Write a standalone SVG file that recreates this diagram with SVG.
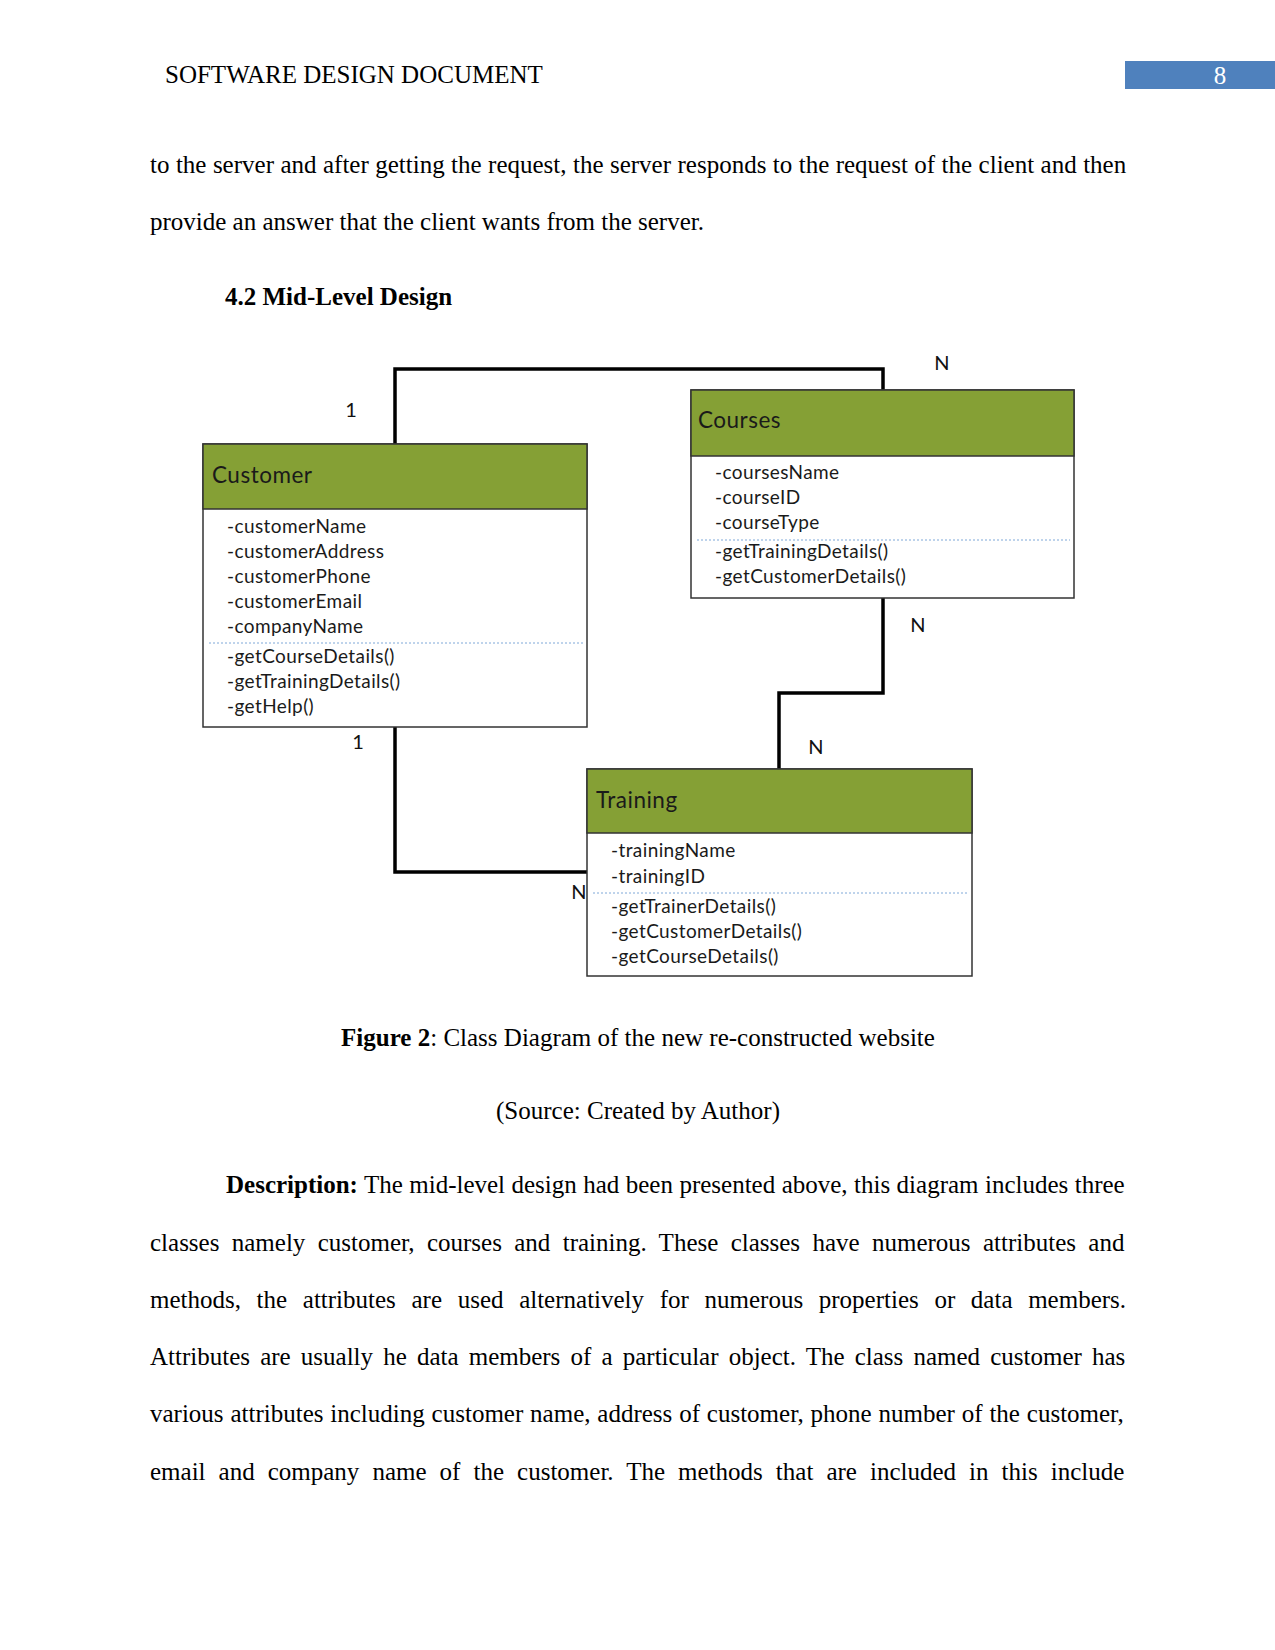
<svg xmlns="http://www.w3.org/2000/svg" width="1275" height="1650" viewBox="0 0 1275 1650">
<style>
.body{font-family:"Liberation Serif","Times New Roman",serif;font-size:25px;fill:#000}
.bold{font-weight:bold}
.uml{font-family:Lato,"Open Sans",sans-serif;fill:#1a1a1a}
.title{font-size:22.5px;letter-spacing:0.5px}
.item{font-size:19px;letter-spacing:0.4px}
.lbl{font-family:Lato,"Open Sans",sans-serif;font-size:20px;fill:#111;text-anchor:middle}
.box{fill:#fff;stroke:#333;stroke-width:1.5}
.head{fill:#85A035;stroke:#333;stroke-width:1.5}
.sep{stroke:#7FA8D8;stroke-width:1;stroke-dasharray:2 2}
.conn{fill:none;stroke:#000;stroke-width:3.5}
</style>
<rect width="1275" height="1650" fill="#fff"/>
<g id="header">
<text class="body" x="165" y="83">SOFTWARE DESIGN DOCUMENT</text>
<rect x="1125" y="61" width="150" height="28" fill="#4F81BD"/>
<text class="body" x="1220" y="84" style="fill:#fff" text-anchor="middle">8</text>
</g>
<g id="intro">
<text class="body" x="150" y="173" word-spacing="0.2">to the server and after getting the request, the server responds to the request of the client and then</text>
<text class="body" x="150" y="230">provide an answer that the client wants from the server.</text>
<text class="body bold" x="225" y="305">4.2 Mid-Level Design</text>
</g>
<g id="connectors">
<polyline class="conn" points="395,444 395,369 883,369 883,390"/>
<polyline class="conn" points="883,598 883,693 779,693 779,769"/>
<polyline class="conn" points="395,727 395,872 587,872"/>
</g>
<g id="labels">
<text class="lbl" x="351" y="417">1</text>
<text class="lbl" x="942" y="370">N</text>
<text class="lbl" x="918" y="632">N</text>
<text class="lbl" x="816" y="754">N</text>
<text class="lbl" x="358" y="749">1</text>
<text class="lbl" x="579" y="899">N</text>
</g>
<g id="customer">
<rect class="box" x="203" y="444" width="384" height="283"/>
<rect class="head" x="203" y="444" width="384" height="65"/>
<text class="uml title" x="212" y="483">Customer</text>
<text class="uml item" x="227" y="533">-customerName</text>
<text class="uml item" x="227" y="558">-customerAddress</text>
<text class="uml item" x="227" y="583">-customerPhone</text>
<text class="uml item" x="227" y="608">-customerEmail</text>
<text class="uml item" x="227" y="633">-companyName</text>
<line class="sep" x1="209" y1="643" x2="583" y2="643"/>
<text class="uml item" x="227" y="663">-getCourseDetails()</text>
<text class="uml item" x="227" y="688">-getTrainingDetails()</text>
<text class="uml item" x="227" y="713">-getHelp()</text>
</g>
<g id="courses">
<rect class="box" x="691" y="390" width="383" height="208"/>
<rect class="head" x="691" y="390" width="383" height="66"/>
<text class="uml title" x="698" y="428">Courses</text>
<text class="uml item" x="715" y="479">-coursesName</text>
<text class="uml item" x="715" y="504">-courseID</text>
<text class="uml item" x="715" y="529">-courseType</text>
<line class="sep" x1="697" y1="540" x2="1070" y2="540"/>
<text class="uml item" x="715" y="558">-getTrainingDetails()</text>
<text class="uml item" x="715" y="583">-getCustomerDetails()</text>
</g>
<g id="training">
<rect class="box" x="587" y="769" width="385" height="207"/>
<rect class="head" x="587" y="769" width="385" height="64"/>
<text class="uml title" x="596" y="808">Training</text>
<text class="uml item" x="611" y="857">-trainingName</text>
<text class="uml item" x="611" y="883">-trainingID</text>
<line class="sep" x1="593" y1="893" x2="967" y2="893"/>
<text class="uml item" x="611" y="913">-getTrainerDetails()</text>
<text class="uml item" x="611" y="938">-getCustomerDetails()</text>
<text class="uml item" x="611" y="963">-getCourseDetails()</text>
</g>
<g id="caption">
<text class="body" x="638" y="1046" text-anchor="middle"><tspan class="bold">Figure 2</tspan>: Class Diagram of the new re-constructed website</text>
<text class="body" x="638" y="1119" text-anchor="middle">(Source: Created by Author)</text>
</g>
<g id="description">
<text class="body" x="226" y="1193" word-spacing="0.2"><tspan class="bold">Description:</tspan> The mid-level design had been presented above, this diagram includes three</text>
<text class="body" x="150" y="1251" word-spacing="6.1">classes namely customer, courses and training. These classes have numerous attributes and</text>
<text class="body" x="150" y="1308" word-spacing="9.4">methods, the attributes are used alternatively for numerous properties or data members.</text>
<text class="body" x="150" y="1365" word-spacing="3.9">Attributes are usually he data members of a particular object. The class named customer has</text>
<text class="body" x="150" y="1422" word-spacing="0.6">various attributes including customer name, address of customer, phone number of the customer,</text>
<text class="body" x="150" y="1480" word-spacing="6.8">email and company name of the customer. The methods that are included in this include</text>
</g>
</svg>
